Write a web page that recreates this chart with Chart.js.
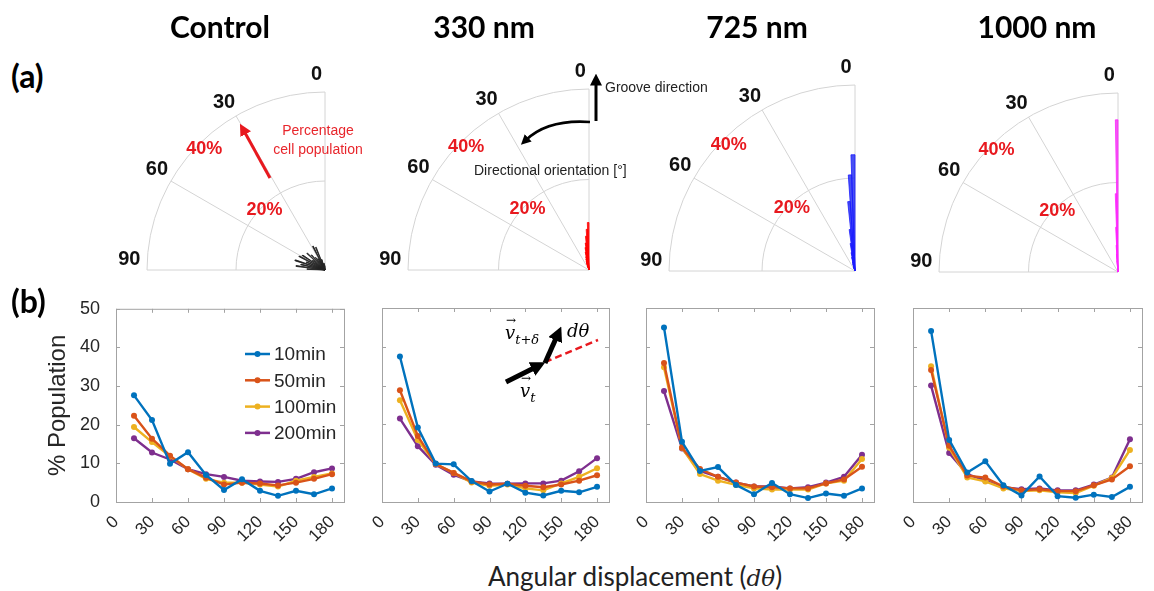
<!DOCTYPE html>
<html>
<head>
<meta charset="utf-8">
<script src="https://cdn.jsdelivr.net/npm/chart.js@4.4.1/dist/chart.umd.min.js"></script>
<style>
body{margin:0;width:1154px;height:591px;position:relative;background:#fff;overflow:hidden;font-family:'Liberation Sans',Arial,sans-serif}
canvas{position:absolute}
.t{position:absolute;white-space:nowrap;color:#000}
.head{font-family:Lato,sans-serif;font-weight:bold;font-size:30px;transform:translate(-50%,-50%)}
.lab{font-family:Lato,sans-serif;font-weight:bold;font-size:32px}
.note{font-size:14px;line-height:19px}
.m{font-family:'DejaVu Serif','Liberation Serif',serif;font-style:italic;font-size:18px}
.vec{position:relative}
.vec::before{content:'\2192';position:absolute;left:1px;top:-9px;font-size:12px;font-style:normal}
sub{font-size:13px}
</style>
</head>
<body>

<canvas id="p0" width="290" height="260" style="left:80px;top:40px"></canvas>
<canvas id="p1" width="290" height="260" style="left:344px;top:40px"></canvas>
<canvas id="p2" width="290" height="260" style="left:610px;top:41px"></canvas>
<canvas id="p3" width="290" height="260" style="left:873px;top:42px"></canvas>

<canvas id="l0" width="368" height="270" style="left:0px;top:290px"></canvas>
<canvas id="l1" width="273" height="270" style="left:360px;top:290px"></canvas>
<canvas id="l2" width="274" height="270" style="left:624px;top:290px"></canvas>
<canvas id="l3" width="275" height="270" style="left:891px;top:290px"></canvas>

<div class="t head" style="left:220px;top:26px">Control</div>
<div class="t head" style="left:484px;top:26px">330 nm</div>
<div class="t head" style="left:757px;top:26px">725 nm</div>
<div class="t head" style="left:1037px;top:26px">1000 nm</div>
<div class="t lab" style="left:11px;top:56px">(a)</div>
<div class="t lab" style="left:11px;top:281px">(b)</div>

<div class="t note" style="left:318px;top:121px;transform:translateX(-50%);text-align:center;color:#e8262c">Percentage<br>cell population</div>
<div class="t note" style="left:605px;top:78px;color:#222">Groove direction</div>
<div class="t note" style="left:474px;top:161px;color:#222">Directional orientation [°]</div>

<div class="t m" style="left:505px;top:322px"><span class="vec">v</span><sub>t+δ</sub></div>
<div class="t m" style="left:567px;top:320px">dθ</div>
<div class="t m" style="left:520px;top:380px"><span class="vec">v</span><sub>t</sub></div>

<div class="t" style="left:635px;top:560px;transform:translateX(-50%);font-family:Lato,sans-serif;font-size:26px;color:#222">Angular displacement (<span style="font-family:'DejaVu Serif',serif;font-style:italic;font-size:23px">dθ</span>)</div>

<svg width="1154" height="591" style="position:absolute;left:0;top:0;pointer-events:none">
<defs>
<marker id="hr" viewBox="0 0 10 10" refX="3" refY="5" markerWidth="4" markerHeight="4" orient="auto"><path d="M0,0 L10,5 L0,10 z" fill="#e8191f"/></marker>
<marker id="hk" viewBox="0 0 10 10" refX="3" refY="5" markerWidth="4" markerHeight="4" orient="auto"><path d="M0,0 L10,5 L0,10 z" fill="#000"/></marker>
<marker id="hb" viewBox="0 0 10 10" refX="3" refY="5" markerWidth="3" markerHeight="3" orient="auto"><path d="M0,0 L10,5 L0,10 z" fill="#000"/></marker>
</defs>
<line x1="270" y1="178" x2="244" y2="131" stroke="#e8191f" stroke-width="3" marker-end="url(#hr)"/>
<line x1="596" y1="121" x2="596" y2="82" stroke="#000" stroke-width="3" marker-end="url(#hk)"/>
<path d="M590,122 Q548,119 526,140" fill="none" stroke="#000" stroke-width="2.5" marker-end="url(#hk)"/>
<line x1="545" y1="362" x2="598" y2="340" stroke="#e8191f" stroke-width="2.5" stroke-dasharray="7,4"/>
<line x1="506" y1="382" x2="536" y2="367" stroke="#000" stroke-width="5" marker-end="url(#hb)"/>
<line x1="545" y1="363" x2="557" y2="336" stroke="#000" stroke-width="5" marker-end="url(#hb)"/>
</svg>

<script>
// ---- line chart data (angular displacement bins, % population) ----
const dTheta = [15, 30, 45, 60, 75, 90, 105, 120, 135, 150, 165, 180];
const xTickVals = [0, 30, 60, 90, 120, 150, 180];
const yTickVals = [0, 10, 20, 30, 40, 50];
const seriesNames = ['10min', '50min', '100min', '200min'];

const ctrl10  = [27.6, 21.2, 9.9, 12.9, 7.0, 3.1, 5.9, 2.9, 1.6, 2.9, 2.0, 3.5];
const ctrl50  = [22.3, 16.4, 12.0, 8.5, 6.3, 4.5, 5.0, 4.8, 4.3, 5.0, 6.0, 7.2];
const ctrl100 = [19.4, 15.5, 11.8, 8.5, 6.0, 5.0, 5.0, 4.5, 4.0, 5.5, 6.5, 7.4];
const ctrl200 = [16.5, 12.8, 11.0, 8.5, 7.2, 6.5, 5.5, 5.3, 5.2, 6.0, 7.7, 8.7];

const nm330_10  = [37.5, 19.2, 9.9, 9.7, 5.4, 2.7, 4.7, 2.4, 1.7, 2.9, 2.5, 3.9];
const nm330_50  = [28.8, 17.0, 9.8, 7.5, 5.3, 4.5, 4.7, 4.2, 3.8, 4.5, 5.5, 6.9];
const nm330_100 = [26.2, 16.0, 9.8, 7.5, 5.0, 4.2, 4.5, 3.5, 3.0, 4.8, 6.5, 8.7];
const nm330_200 = [21.5, 14.4, 9.6, 7.0, 5.3, 4.8, 4.7, 4.8, 4.8, 5.5, 7.9, 11.3];

const nm725_10  = [45.0, 15.5, 8.0, 9.0, 4.4, 2.0, 4.9, 2.0, 1.0, 2.2, 1.6, 3.5];
const nm725_50  = [35.8, 14.0, 8.5, 6.5, 5.0, 4.0, 3.8, 3.5, 3.5, 4.8, 5.8, 9.1];
const nm725_100 = [34.7, 14.0, 7.2, 5.5, 4.4, 3.5, 3.2, 3.2, 3.2, 4.8, 5.5, 11.1];
const nm725_200 = [28.6, 13.8, 8.0, 6.5, 5.0, 4.0, 4.0, 3.5, 3.8, 5.0, 6.5, 12.2];

const nm1000_10  = [44.1, 16.0, 7.6, 10.5, 4.3, 1.7, 6.6, 1.5, 1.1, 1.9, 1.3, 3.9];
const nm1000_50  = [34.0, 14.5, 6.8, 6.3, 4.0, 3.0, 3.3, 2.8, 2.8, 4.3, 5.8, 9.2];
const nm1000_100 = [35.0, 14.0, 6.3, 5.3, 3.5, 2.8, 3.0, 2.5, 2.3, 4.2, 6.2, 13.4];
const nm1000_200 = [30.0, 12.6, 7.2, 5.5, 3.8, 3.3, 3.5, 3.0, 3.0, 4.5, 6.3, 16.2];

// ---- polar (rose) data: bin start angle in degrees from groove, % cells ----
const roseRings = [20, 40];
const roseAngles = [0, 30, 60, 90];
const ctrlBinStart = [1, 6, 11, 16, 21, 26, 31, 36, 41, 46, 51, 56, 61, 66, 71, 76, 81, 86];
const ctrlRose = [1.0, 1.5, 1.5, 2.5, 5.5, 6.0, 3.0, 3.5, 4.5, 5.5, 3.5, 6.0, 6.5, 4.5, 7.0, 5.5, 6.5, 4.0];
const nmBinStart = [0, 2, 4, 6, 8, 10, 12, 14, 16, 18];
const nm1000BinStart = [0, 1, 2, 3, 4, 5, 6, 7, 8, 9];
const rose330 = [10.5, 9.0, 7.5, 6.0, 5.0, 4.0, 3.0, 2.5, 2.0, 1.5];
const rose725 = [25.0, 20.7, 15.0, 9.0, 6.0, 4.0, 3.0, 2.0, 1.5, 1.0];
const rose1000 = [34.0, 17.5, 10.0, 6.0, 4.0, 2.5, 1.5, 1.0, 0.5, 0.5];

const colors = ['#0072BD', '#D95319', '#EDB120', '#7E2F8E'];
const ink = '#262626';

// ---------- polar panels ----------
const polarGrid = {
  id: 'polarGrid',
  beforeDatasetsDraw(chart) {
    const {ctx, scales: {x, y}} = chart;
    const cx = x.getPixelForValue(0), cy = y.getPixelForValue(0);
    const k = x.getPixelForValue(1) - cx;
    ctx.save();
    ctx.strokeStyle = '#d4d4d4';
    ctx.lineWidth = 1;
    roseRings.forEach(r => {
      ctx.beginPath();
      ctx.arc(cx, cy, r * k, -Math.PI / 2, -Math.PI, true);
      ctx.stroke();
    });
    const rMax = roseRings[roseRings.length - 1];
    roseAngles.forEach(a => {
      const t = a * Math.PI / 180;
      ctx.beginPath();
      ctx.moveTo(cx, cy);
      ctx.lineTo(cx - rMax * k * Math.sin(t), cy - rMax * k * Math.cos(t));
      ctx.stroke();
    });
    ctx.restore();
  },
  afterDraw(chart) {
    const {ctx, scales: {x, y}} = chart;
    const cx = x.getPixelForValue(0), cy = y.getPixelForValue(0);
    const k = x.getPixelForValue(1) - cx;
    const rMax = roseRings[roseRings.length - 1];
    ctx.save();
    ctx.textAlign = 'center';
    ctx.textBaseline = 'middle';
    ctx.fillStyle = '#111';
    ctx.font = 'bold 20px "Liberation Sans", Arial, sans-serif';
    const labAng = [2.5, 31, 59, 87];
    roseAngles.forEach((a, i) => {
      const t = labAng[i] * Math.PI / 180, r = rMax * k + 18;
      ctx.fillText(String(a), cx - r * Math.sin(t), cy - r * Math.cos(t));
    });
    ctx.fillStyle = '#e8191f';
    ctx.font = 'bold 18px "Liberation Sans", Arial, sans-serif';
    roseRings.forEach(v => {
      const t = 45 * Math.PI / 180, r = v * 0.96 * k;
      ctx.fillText(v + '%', cx - r * Math.sin(t), cy - r * Math.cos(t));
    });
    ctx.restore();
  }
};

function wedges(starts, width, vals) {
  const pts = [];
  starts.forEach((a, i) => {
    const v = vals[i];
    const t1 = a * Math.PI / 180, t2 = (a + width) * Math.PI / 180;
    pts.push({x: 0, y: 0});
    pts.push({x: -v * Math.sin(t1), y: v * Math.cos(t1)});
    pts.push({x: -v * Math.sin(t2), y: v * Math.cos(t2)});
    pts.push({x: 0, y: 0});
  });
  return pts;
}

function polarChart(id, R, starts, width, vals, line, fill) {
  const W = 290, H = 260, ox = 245, oy = 230;
  const k = R / 40;
  new Chart(document.getElementById(id), {
    type: 'scatter',
    data: {datasets: [{
      data: wedges(starts, width, vals),
      showLine: true, fill: 'shape', borderColor: line, backgroundColor: fill,
      borderWidth: 0.8, pointRadius: 0, tension: 0
    }]},
    options: {
      responsive: false, animation: false,
      layout: {padding: 0},
      plugins: {legend: {display: false}, tooltip: {enabled: false}},
      scales: {
        x: {type: 'linear', display: false, min: -ox / k, max: (W - ox) / k},
        y: {type: 'linear', display: false, min: -(H - oy) / k, max: oy / k}
      }
    },
    plugins: [polarGrid]
  });
}

polarChart('p0', 178, ctrlBinStart, 2, ctrlRose, '#222', '#111');
polarChart('p1', 181, nmBinStart, 2, rose330, '#ff0000', 'rgba(255,0,0,0.85)');
polarChart('p2', 186, nmBinStart, 2, rose725, '#1a1aff', 'rgba(40,50,240,0.85)');
polarChart('p3', 179, nm1000BinStart, 1, rose1000, '#ff22ff', 'rgba(240,60,240,0.85)');

// ---------- line panels ----------
const boxTicks = {
  id: 'boxTicks',
  beforeDatasetsDraw(chart) {
    const {ctx, chartArea: a, scales: {x, y}} = chart;
    ctx.save();
    ctx.strokeStyle = '#a3a3a3';
    ctx.lineWidth = 1;
    ctx.strokeRect(a.left + 0.5, a.top + 0.5, a.right - a.left, a.bottom - a.top);
    ctx.beginPath();
    xTickVals.forEach(v => {
      const px = Math.round(x.getPixelForValue(v)) + 0.5;
      ctx.moveTo(px, a.bottom); ctx.lineTo(px, a.bottom - 4);
      ctx.moveTo(px, a.top); ctx.lineTo(px, a.top + 4);
    });
    yTickVals.forEach(v => {
      const py = Math.round(y.getPixelForValue(v)) + 0.5;
      ctx.moveTo(a.left, py); ctx.lineTo(a.left + 4, py);
      ctx.moveTo(a.right, py); ctx.lineTo(a.right - 4, py);
    });
    ctx.stroke();
    ctx.restore();
  }
};

const insideLegend = {
  id: 'insideLegend',
  afterDraw(chart) {
    const ctx = chart.ctx;
    ctx.save();
    ctx.font = '19px "Liberation Sans", Arial, sans-serif';
    ctx.textBaseline = 'middle';
    chart.data.datasets.forEach((ds, i) => {
      const yy = 64 + i * 26.3;
      ctx.strokeStyle = ds.borderColor;
      ctx.lineWidth = 2.5;
      ctx.beginPath(); ctx.moveTo(245, yy); ctx.lineTo(270, yy); ctx.stroke();
      ctx.fillStyle = ds.borderColor;
      ctx.beginPath(); ctx.arc(257.5, yy, 3, 0, Math.PI * 2); ctx.fill();
      ctx.fillStyle = ink;
      ctx.fillText(ds.label, 274, yy + 1);
    });
    ctx.restore();
  }
};

function lineChart(id, sets, padLeft, showY) {
  const plugins = [boxTicks];
  if (showY) plugins.push(insideLegend);
  new Chart(document.getElementById(id), {
    type: 'line',
    data: {
      datasets: sets.map((s, i) => ({
        label: seriesNames[i],
        data: dTheta.map((d, j) => ({x: d, y: s[j]})),
        borderColor: colors[i], backgroundColor: colors[i],
        borderWidth: 2.4, pointRadius: 3, pointBorderWidth: 0,
        pointBackgroundColor: colors[i], tension: 0, fill: false
      }))
    },
    options: {
      responsive: false, animation: false,
      layout: {padding: {left: padLeft, right: 24, top: 18, bottom: 0}},
      plugins: {legend: {display: false}, tooltip: {enabled: false}},
      scales: {
        x: {
          type: 'linear', min: 0, max: 190,
          afterBuildTicks: s => { s.ticks = xTickVals.map(v => ({value: v})); },
          afterFit: s => { s.height = 58; },
          grid: {display: false}, border: {display: false},
          ticks: {autoSkip: false, minRotation: 45, maxRotation: 45, padding: 2,
                  color: ink, font: {size: 17, family: '"Liberation Sans", Arial, sans-serif'}}
        },
        y: {
          type: 'linear', min: 0, max: 50, display: showY,
          afterBuildTicks: s => { s.ticks = yTickVals.map(v => ({value: v})); },
          afterFit: s => { s.width = showY ? 76 : 0; },
          grid: {display: false}, border: {display: false},
          ticks: {padding: 8, color: ink, font: {size: 18, family: '"Liberation Sans", Arial, sans-serif'}},
          title: {display: true, text: '% Population', color: ink, padding: {top: 4, bottom: 0},
                  font: {size: 24, family: '"Liberation Sans", Arial, sans-serif'}}
        }
      }
    },
    plugins: plugins
  });
}

lineChart('l0', [ctrl10, ctrl50, ctrl100, ctrl200], 40, true);
lineChart('l1', [nm330_10, nm330_50, nm330_100, nm330_200], 22, false);
lineChart('l2', [nm725_10, nm725_50, nm725_100, nm725_200], 22, false);
lineChart('l3', [nm1000_10, nm1000_50, nm1000_100, nm1000_200], 22, false);
</script>
</body>
</html>
